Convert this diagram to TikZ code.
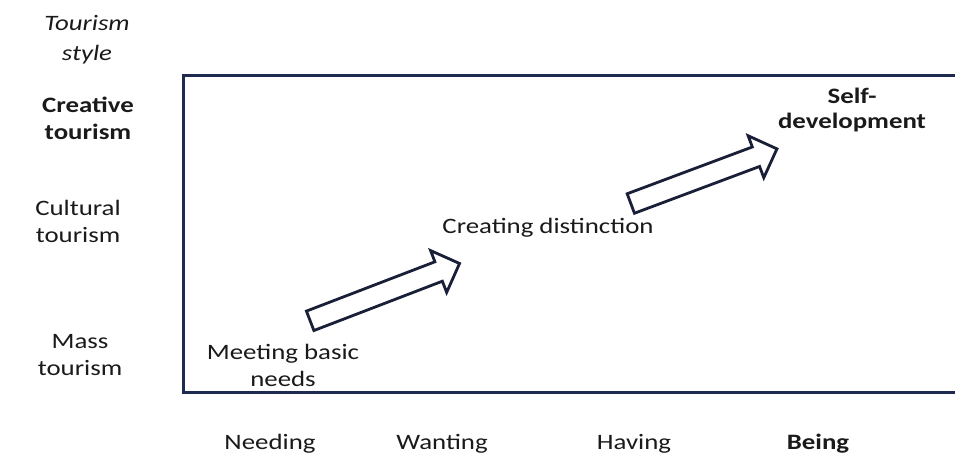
\documentclass[tikz,border=0pt]{standalone}
\usepackage{fontspec}
\setmainfont{Carlito}[FakeStretch=1.22]
\usetikzlibrary{shapes.arrows}
\definecolor{framec}{HTML}{1F2A50}
\definecolor{arrc}{HTML}{1A1F38}
\definecolor{txtc}{HTML}{1A1A1A}
\tikzset{
  lbl/.style={align=center,font=\fontsize{22}{27}\selectfont,text=txtc,inner sep=0pt},
  blk/.style={single arrow,draw=arrc,line width=2.8pt,fill=white,inner xsep=0pt,inner ysep=9pt,
    minimum width=0pt,single arrow head extend=12pt}
}
\begin{document}
\begin{tikzpicture}[x=1pt,y=-1pt]
\useasboundingbox (0,0) rectangle (955,456);
% frame (open on the right)
\draw[framec,line width=3pt] (955,75) -- (183,75) -- (183,392) -- (955,392);
% vertical axis
\node[lbl,font=\fontsize{22}{30}\selectfont\itshape] (style) at (87,40) {Tourism\\style};
\node[lbl,font=\fontsize{22}{27}\selectfont\bfseries] (creative) at (88,118) {Creative\\tourism};
\node[lbl] (cultural) at (78,221) {Cultural\\tourism};
\node[lbl] (mass) at (80,355) {Mass\\tourism};
% stages
\node[lbl] (basic) at (283,365) {Meeting basic\\needs};
\node[lbl] (distinct) at (548,228) {Creating distinction};
\node[lbl,font=\fontsize{22}{25}\selectfont\bfseries] (selfdev) at (852,110) {Self-\\development};
% block arrows
\node[blk,minimum height=160pt,rotate=21] (up1) at (380,294) {};
\node[blk,minimum height=156pt,rotate=20.5] (up2) at (699,178) {};
% horizontal axis
\node[lbl] (needing) at (270,444) {Needing};
\node[lbl] (wanting) at (442,444) {Wanting};
\node[lbl] (having) at (634,444) {Having};
\node[lbl,font=\fontsize{22}{27}\selectfont\bfseries] (being) at (818,444) {Being};
\end{tikzpicture}
\end{document}
